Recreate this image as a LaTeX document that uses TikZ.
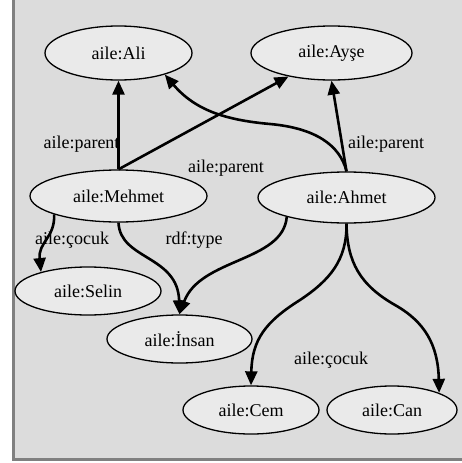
\documentclass[tikz,border=0pt]{standalone}
\usepackage{fontspec}
\setmainfont{Liberation Serif}
\usetikzlibrary{shapes.geometric,arrows.meta}
\definecolor{bgfill}{RGB}{220,220,220}
\definecolor{framecol}{RGB}{128,128,128}
\definecolor{nodefill}{RGB}{234,234,234}
\tikzset{
  ent/.style={ellipse, draw=black, line width=1.3pt, fill=nodefill, inner sep=0pt, minimum height=49pt},
  edge/.style={line width=2.6pt, draw=black, -{Triangle[length=14pt,width=12pt]}},
  lbl/.style={inner sep=0pt, text=black}
}
\begin{document}
\begin{tikzpicture}[x=1pt,y=-1pt,font=\fontsize{18}{21}\selectfont]
\useasboundingbox (0,0) rectangle (462,463);
\fill[white] (0,0) rectangle (462,463);
\draw[framecol, line width=3pt, fill=bgfill] (13.5,-10) rectangle (475,459.5);

\node[ent, minimum width=147pt, minimum height=54pt] (ali) at (118.5,53) {aile:Ali};
\node[ent, minimum width=161pt, minimum height=54pt] (ayse) at (331.5,53) {aile:Ayşe};
\node[ent, minimum width=177pt, minimum height=52pt] (mehmet) at (118.5,196) {aile:Mehmet};
\node[ent, minimum width=177pt, minimum height=51pt] (ahmet) at (346.5,197.5) {aile:Ahmet};
\node[ent, minimum width=146pt, minimum height=48pt] (selin) at (88,291) {aile:Selin};
\node[ent, minimum width=145pt, minimum height=48pt] (insan) at (179.5,339) {aile:İnsan};
\node[ent, minimum width=136pt, minimum height=48pt] (cem) at (251,410) {aile:Cem};
\node[ent, minimum width=130pt, minimum height=48pt] (can) at (392,410) {aile:Can};

\node[lbl] (l1) at (81.5,144) {aile:parent};
\node[lbl] (l2) at (226,168) {aile:parent};
\node[lbl] (l3) at (386,144) {aile:parent};
\node[lbl] (l4) at (72,240) {aile:çocuk};
\node[lbl] (l5) at (194,240) {rdf:type};
\node[lbl] (l6) at (331,360) {aile:çocuk};

\draw[edge] (mehmet.north) -- (ali.south);
\draw[edge] (mehmet.north) -- (ayse);
\draw[edge] (ahmet.north) .. controls (340,145) and (315,128) .. (270,124) .. controls (225,120) and (195,110) .. (ali.-25);
\draw[edge] (ahmet.north) -- (ayse.south);
\draw[edge] (mehmet.-164) .. controls (55,238) and (38,242) .. (selin.158);
\draw[edge] (mehmet.south) .. controls (120,260) and (178,255) .. (insan.north);
\draw[edge] (ahmet.-162) .. controls (283,262) and (200,258) .. (insan.north);
\draw[edge] (ahmet.south) .. controls (347,260) and (330,280) .. (300,300) .. controls (265,322) and (252,340) .. (cem.north);
\draw[edge] (ahmet.south) .. controls (347,262) and (360,285) .. (395,305) .. controls (425,322) and (438,345) .. (can.20);
\end{tikzpicture}
\end{document}
